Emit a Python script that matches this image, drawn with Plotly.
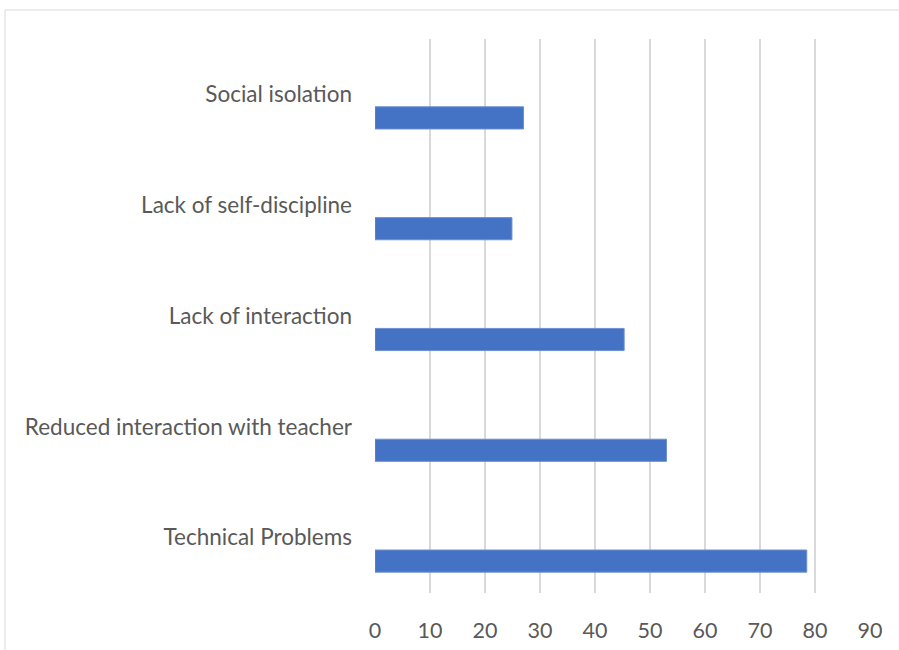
import plotly.graph_objects as go

# Survey: main disadvantages of online learning (values in %)
categories = [
    "Technical Problems",
    "Reduced interaction with teacher",
    "Lack of interaction",
    "Lack of self-discipline",
    "Social isolation",
]
values = [78.5, 53, 45.3, 24.9, 27]
x_ticks = [0, 10, 20, 30, 40, 50, 60, 70, 80, 90]

W, H = 899, 650
L, R, T, B = 375, 29, 39, 57
pw, ph = W - L - R, H - T - B

fig = go.Figure()
fig.add_trace(go.Bar(
    y=categories,
    x=values,
    orientation="h",
    width=0.2,
    offset=-0.312,
    marker=dict(color="#4472C4", line=dict(color="#6D8FD0", width=1)),
))

# Outer chart frame (only left and top edges fall inside the view)
def px_x(v):
    return (v - L) / pw

def px_y(v):
    return (H - B - v) / ph

fig.add_shape(type="line", xref="paper", yref="paper",
              x0=px_x(5), x1=px_x(910), y0=px_y(10), y1=px_y(10),
              line=dict(color="#D9D9D9", width=1))
fig.add_shape(type="line", xref="paper", yref="paper",
              x0=px_x(5), x1=px_x(5), y0=px_y(10), y1=px_y(660),
              line=dict(color="#D9D9D9", width=1))

font_family = "Lato, 'Open Sans', sans-serif"

fig.update_layout(
    width=W, height=H,
    margin=dict(l=L, r=R, t=T, b=B, autoexpand=False),
    paper_bgcolor="white",
    plot_bgcolor="white",
    showlegend=False,
    font=dict(family=font_family, color="#595959", size=22),
    xaxis=dict(
        range=[0, 90],
        tickvals=x_ticks,
        ticktext=[str(v) for v in x_ticks],
        showgrid=True,
        gridcolor="#D9D9D9",
        gridwidth=1.5,
        zeroline=False,
        showline=False,
        ticks="",
        automargin=False,
        ticklabelstandoff=22,
        tickfont=dict(size=21.5),
    ),
    yaxis=dict(
        categoryorder="array",
        categoryarray=categories,
        range=[-0.5, 4.5],
        showgrid=False,
        zeroline=False,
        showline=False,
        ticks="",
        automargin=False,
        ticklabelstandoff=22,
        tickfont=dict(size=22.5),
    ),
)

fig.write_html("out.html")
